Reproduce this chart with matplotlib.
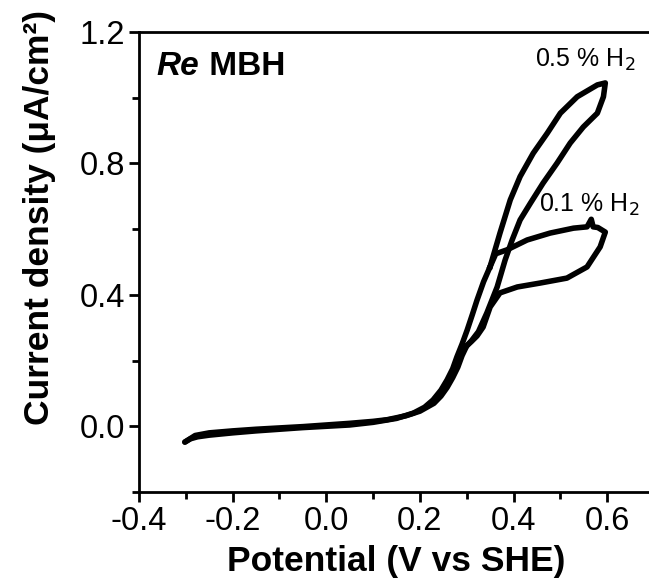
import numpy as np
import matplotlib.pyplot as plt
from matplotlib.ticker import MultipleLocator

plt.rcParams['font.family'] = ['Liberation Sans', 'DejaVu Sans']

# shared forward scan from -0.3 V up to the split point
E_rise = [-0.302, -0.29, -0.275, -0.25, -0.20, -0.15, -0.10, -0.05, 0.00, 0.05,
          0.10, 0.15, 0.186, 0.21, 0.228, 0.245, 0.258, 0.270, 0.279, 0.290, 0.301,
          0.312, 0.322, 0.336, 0.350]
j_rise = [-0.048, -0.038, -0.032, -0.027, -0.020, -0.014, -0.009, -0.004, 0.000, 0.004,
          0.012, 0.024, 0.040, 0.058, 0.080, 0.110, 0.141, 0.175, 0.211, 0.250, 0.293,
          0.340, 0.384, 0.440, 0.486]

# shared reverse scan back from the join point to -0.3 V
E_back = [0.300, 0.290, 0.281, 0.270, 0.258, 0.245, 0.23, 0.20, 0.17, 0.13, 0.10, 0.05, 0.00,
          -0.05, -0.10, -0.15, -0.20, -0.25, -0.28, -0.302]
j_back = [0.245, 0.215, 0.180, 0.148, 0.118, 0.092, 0.070, 0.046, 0.032, 0.020, 0.015, 0.009, 0.004,
          -0.001, -0.005, -0.009, -0.014, -0.020, -0.028, -0.048]

# 0.5 % H2 loop
E_05_fwd = [0.371, 0.393, 0.414, 0.442, 0.472, 0.500, 0.536, 0.579, 0.596]
j_05_fwd = [0.588, 0.689, 0.760, 0.831, 0.892, 0.953, 1.003, 1.039, 1.045]
E_05_rev = [0.592, 0.579, 0.549, 0.521, 0.493, 0.463, 0.436, 0.414, 0.397, 0.382, 0.365,
            0.343, 0.325, 0.310]
j_05_rev = [1.003, 0.953, 0.911, 0.862, 0.801, 0.740, 0.679, 0.628, 0.567, 0.506, 0.424,
            0.345, 0.288, 0.260]

# 0.1 % H2 loop
E_01_fwd = [0.362, 0.386, 0.429, 0.478, 0.528, 0.557, 0.566, 0.570, 0.580, 0.596]
j_01_fwd = [0.525, 0.537, 0.567, 0.588, 0.603, 0.607, 0.630, 0.607, 0.605, 0.591]
E_01_rev = [0.585, 0.557, 0.514, 0.457, 0.408, 0.371, 0.350, 0.335, 0.322, 0.310]
j_01_rev = [0.546, 0.485, 0.451, 0.436, 0.424, 0.406, 0.363, 0.302, 0.275, 0.258]

fig = plt.figure(figsize=(6.49, 5.87), dpi=100)
ax = fig.add_axes([139/649, 95/587, 515/649, 460/587])

lw = 4
ax.plot(E_rise, j_rise, color='black', lw=lw, solid_capstyle='round', solid_joinstyle='round')
ax.plot(E_back, j_back, color='black', lw=lw, solid_capstyle='round', solid_joinstyle='round')
# 0.5 % loop
ax.plot([E_rise[-1]] + E_05_fwd + E_05_rev + [E_back[0]],
        [j_rise[-1]] + j_05_fwd + j_05_rev + [j_back[0]],
        color='black', lw=lw, solid_joinstyle='round')
# 0.1 % loop
ax.plot([E_rise[-1]] + E_01_fwd + E_01_rev + [E_back[0]],
        [j_rise[-1]] + j_01_fwd + j_01_rev + [j_back[0]],
        color='black', lw=lw, solid_joinstyle='round')

ax.set_xlim(-0.4, 0.7)
ax.set_ylim(-0.2, 1.2)
ax.xaxis.set_major_locator(MultipleLocator(0.2))
ax.xaxis.set_minor_locator(MultipleLocator(0.1))
ax.yaxis.set_minor_locator(MultipleLocator(0.2))
ax.set_yticks([0.0, 0.4, 0.8, 1.2])
ax.xaxis.set_major_formatter(plt.FuncFormatter(lambda v, p: '%.1f' % v))
ax.yaxis.set_major_formatter(plt.FuncFormatter(lambda v, p: '%.1f' % v))

for s in ax.spines.values():
    s.set_linewidth(2)
ax.tick_params(which='major', direction='out', length=7, width=2, labelsize=23.5, pad=3)
ax.tick_params(which='minor', direction='out', length=5, width=2)

ax.set_xlabel('Potential (V vs SHE)', fontsize=25.5, fontweight='bold', labelpad=6)
ax.set_ylabel('Current density (\u03bcA/cm\u00b2)', fontsize=25.5, fontweight='bold')
ax.yaxis.set_label_coords(-0.162, 0.596)

t = ax.text(-0.362, 1.069, 'Re', fontsize=24, fontweight='bold', fontstyle='italic',
            va='baseline')
ax.annotate(' MBH', xy=(1, 0), xycoords=t, fontsize=24, fontweight='bold',
            va='bottom', ha='left')

ax.text(0.446, 1.094, r'0.5 % H$_2$', fontsize=18, va='baseline')
ax.text(0.455, 0.652, r'0.1 % H$_2$', fontsize=18, va='baseline')

fig.savefig('out.png', dpi=100)
